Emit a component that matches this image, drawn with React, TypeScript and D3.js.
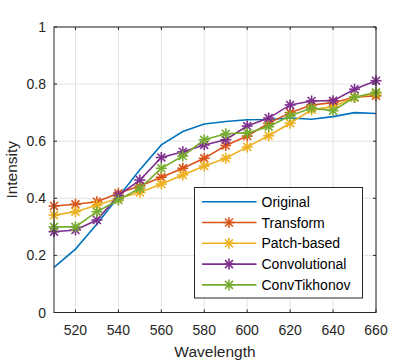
import * as d3 from "d3";

const width = 415;
const height = 362;
const margin = { top: 27, right: 39, bottom: 49.5, left: 54 };

const wavelengths = [510, 520, 530, 540, 550, 560, 570, 580, 590, 600, 610, 620, 630, 640, 650, 660];
const original = [0.158, 0.222, 0.31, 0.405, 0.5, 0.587, 0.634, 0.66, 0.669, 0.675, 0.676, 0.681, 0.677, 0.686, 0.7, 0.697];
const transform = [0.373, 0.379, 0.388, 0.418, 0.443, 0.474, 0.505, 0.54, 0.585, 0.618, 0.663, 0.7, 0.727, 0.735, 0.754, 0.759];
const patchBased = [0.341, 0.353, 0.376, 0.4, 0.42, 0.45, 0.482, 0.513, 0.54, 0.58, 0.619, 0.663, 0.71, 0.721, 0.754, 0.766];
const convolutional = [0.283, 0.289, 0.324, 0.41, 0.464, 0.543, 0.563, 0.587, 0.605, 0.653, 0.681, 0.727, 0.741, 0.742, 0.782, 0.812];
const convTikhonov = [0.3, 0.3, 0.353, 0.394, 0.435, 0.505, 0.548, 0.605, 0.626, 0.629, 0.651, 0.689, 0.716, 0.707, 0.754, 0.771];

const xTicks = [520, 540, 560, 580, 600, 620, 640, 660];
const yTicks = [0, 0.2, 0.4, 0.6, 0.8, 1];

const series = [
  { name: "Original", values: original, color: "#0072BD", marker: false },
  { name: "Transform", values: transform, color: "#D95319", marker: true },
  { name: "Patch-based", values: patchBased, color: "#EDB120", marker: true },
  { name: "Convolutional", values: convolutional, color: "#7E2F8E", marker: true },
  { name: "ConvTikhonov", values: convTikhonov, color: "#77AC30", marker: true },
];

const font = "'Liberation Sans', Arial, sans-serif";

// MATLAB style '*' marker: plus + cross
const Asterisk = ({ x, y, color }: { x: number; y: number; color: string }) => {
  const r = 5.5;
  const d = r * 0.72;
  return (
    <g stroke={color} strokeWidth={1.6}>
      <line x1={x - r} y1={y} x2={x + r} y2={y} />
      <line x1={x} y1={y - r} x2={x} y2={y + r} />
      <line x1={x - d} y1={y - d} x2={x + d} y2={y + d} />
      <line x1={x - d} y1={y + d} x2={x + d} y2={y - d} />
    </g>
  );
};

export default function App() {
  const x = d3.scaleLinear().domain([510, 660]).range([margin.left, width - margin.right]);
  const y = d3.scaleLinear().domain([0, 1]).range([height - margin.bottom, margin.top]);
  const x0 = margin.left;
  const x1 = width - margin.right;
  const y0 = height - margin.bottom;
  const y1 = margin.top;

  const line = d3
    .line<number>()
    .x((_, i) => x(wavelengths[i]))
    .y((d) => y(d));

  const legendX = 194.5;
  const legendY = 187.5;
  const rowH = 20.8;

  return (
    <svg width={width} height={height} style={{ position: "absolute", left: 0, top: 0 }} fontFamily={font}>
      <rect width={width} height={height} fill="#fff" />
      {/* grid */}
      <g stroke="#e3e3e3" strokeWidth={1}>
        {xTicks.map((t) => (
          <line key={t} x1={x(t)} x2={x(t)} y1={y1} y2={y0} />
        ))}
        {yTicks.map((t) => (
          <line key={t} x1={x0} x2={x1} y1={y(t)} y2={y(t)} />
        ))}
      </g>

      {/* lines */}
      {series.map((s) => (
        <g key={s.name}>
          <path d={line(s.values) ?? ""} fill="none" stroke={s.color} strokeWidth={1.6} />
          {s.marker &&
            s.values.map((v, i) => <Asterisk key={i} x={x(wavelengths[i])} y={y(v)} color={s.color} />)}
        </g>
      ))}

      {/* axes box + ticks */}
      <rect x={x0} y={y1} width={x1 - x0} height={y0 - y1} fill="none" stroke="#262626" strokeWidth={1} />
      <g stroke="#262626" strokeWidth={1}>
        {xTicks.map((t) => (
          <g key={t}>
            <line x1={x(t)} x2={x(t)} y1={y0} y2={y0 - 3} />
            <line x1={x(t)} x2={x(t)} y1={y1} y2={y1 + 3} />
          </g>
        ))}
        {yTicks.map((t) => (
          <g key={t}>
            <line x1={x0} x2={x0 + 3} y1={y(t)} y2={y(t)} />
            <line x1={x1} x2={x1 - 3} y1={y(t)} y2={y(t)} />
          </g>
        ))}
      </g>
      <g fontSize={14} fill="#262626">
        {xTicks.map((t) => (
          <text key={t} x={x(t)} y={y0 + 22} textAnchor="middle">
            {t}
          </text>
        ))}
        {yTicks.map((t) => (
          <text key={t} x={x0 - 8} y={y(t) + 5} textAnchor="end">
            {t}
          </text>
        ))}
      </g>
      <text x={(x0 + x1) / 2} y={356.5} textAnchor="middle" fontSize={15.5} fill="#262626">
        Wavelength
      </text>
      <text
        transform={`translate(17,${(y0 + y1) / 2}) rotate(-90)`}
        textAnchor="middle"
        fontSize={15.5}
        fill="#262626"
      >
        Intensity
      </text>

      {/* legend */}
      <rect x={legendX} y={legendY} width={168} height={110.5} fill="#fff" stroke="#262626" strokeWidth={1} />
      {series.map((s, i) => {
        const ly = legendY + 14.2 + i * rowH;
        return (
          <g key={s.name}>
            <line x1={legendX + 7.5} x2={legendX + 62} y1={ly} y2={ly} stroke={s.color} strokeWidth={1.6} />
            {s.marker && <Asterisk x={legendX + 34.5} y={ly} color={s.color} />}
            <text x={legendX + 67} y={ly + 5} fontSize={14} fill="#000">
              {s.name}
            </text>
          </g>
        );
      })}
    </svg>
  );
}
